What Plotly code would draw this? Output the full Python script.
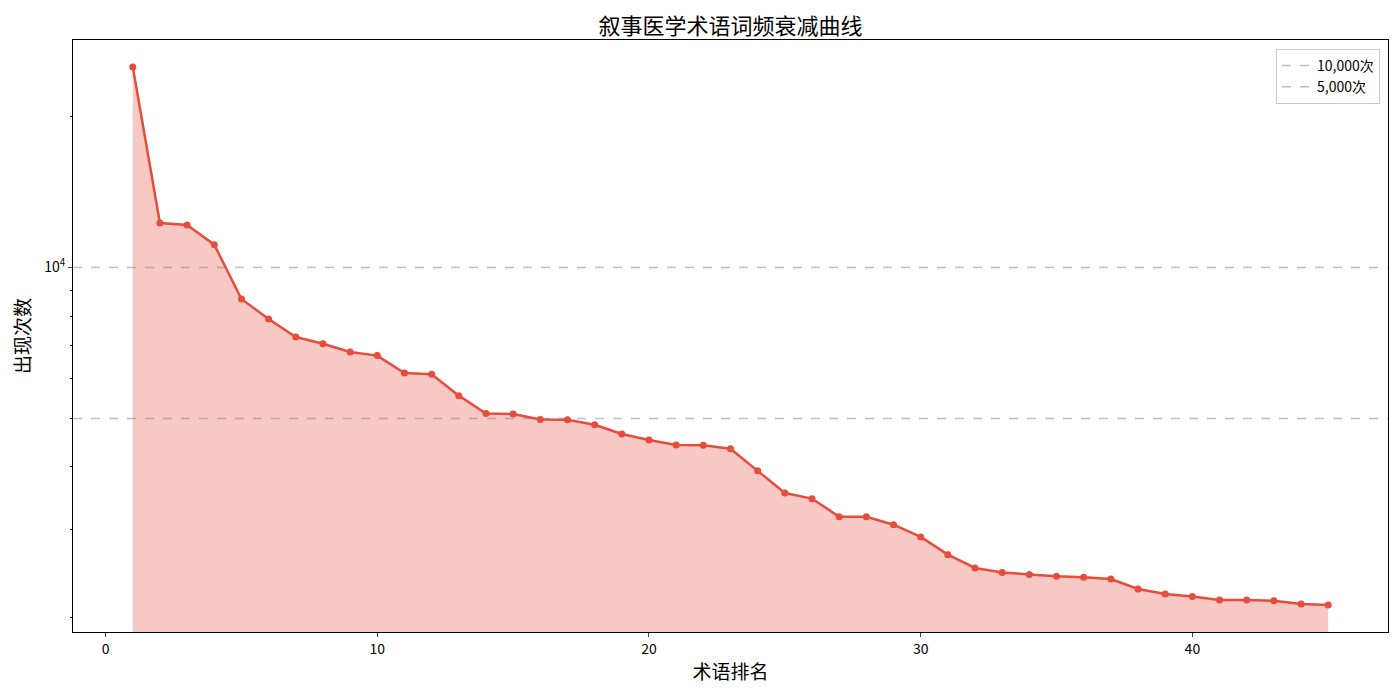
import numpy as np
import plotly.graph_objects as go

# term rank vs occurrence count
ranks = list(range(1, 46))
counts = [25100, 12260, 12150, 11100, 8650, 7890, 7265, 7045, 6780, 6670,
          6160, 6120, 5550, 5115, 5100, 4977, 4970, 4857, 4654, 4527,
          4424, 4420, 4350, 3933, 3550, 3459, 3184, 3183, 3069, 2901,
          2675, 2516, 2465, 2443, 2421, 2410, 2392, 2285, 2233, 2208,
          2172, 2172, 2165, 2132, 2122]

ref_lines = [10000, 5000]
ref_names = ["10,000次", "5,000次"]

red = "#e74c3c"
font_cjk = "Noto Sans CJK SC, DejaVu Sans, sans-serif"

fig = go.Figure()
fig.add_trace(go.Scatter(x=ranks, y=counts, mode="lines+markers",
                         line=dict(color=red, width=2.5),
                         marker=dict(color=red, size=7),
                         fill="tozeroy", fillcolor="rgba(231,76,60,0.3)",
                         showlegend=False, hoverinfo="x+y"))

for val, nm in zip(ref_lines, ref_names):
    fig.add_hline(y=val, line=dict(color="rgba(128,128,128,0.5)", width=1.5, dash="dash"),
                  showlegend=True, name=nm)

# matplotlib-like 5% margins
lo, hi = np.log10(min(counts)), np.log10(max(counts))
pad = 0.05 * (hi - lo)
xpad = 0.05 * (max(ranks) - min(ranks))

minor_vals = [2000, 3000, 4000, 5000, 6000, 7000, 8000, 9000, 20000]

# page body has an 8px margin, so margins are shifted to compensate
fig.update_layout(
    width=1400, height=694,
    margin=dict(l=63, r=20, t=32, b=70),
    paper_bgcolor="white", plot_bgcolor="white",
    font=dict(family=font_cjk, size=14, color="black"),
    title=dict(text="叙事医学术语词频衰减曲线", xref="paper", x=0.5, xanchor="center",
               y=0.973, yanchor="middle", font=dict(size=22)),
    legend=dict(x=0.9939, xanchor="right", y=0.985, yanchor="top",
                bordercolor="#cccccc", borderwidth=1, bgcolor="rgba(255,255,255,0.8)",
                font=dict(size=14), tracegroupgap=0),
)
fig.update_xaxes(range=[min(ranks) - xpad, max(ranks) + xpad],
                 tickvals=[0, 10, 20, 30, 40], ticks="outside", ticklen=4,
                 showgrid=False, zeroline=False, showline=True, linecolor="black",
                 linewidth=1, mirror=True,
                 title=dict(text="术语排名", font=dict(size=19), standoff=8))
fig.update_yaxes(type="log", range=[lo - pad, hi + pad],
                 tickvals=[10000], ticktext=["10<sup>4</sup>"],
                 ticks="outside", ticklen=4,
                 minor=dict(tickvals=minor_vals, ticks="outside", ticklen=2.5,
                            tickcolor="black", showgrid=False),
                 showgrid=False, zeroline=False, showline=True, linecolor="black",
                 linewidth=1, mirror=True,
                 title=dict(text="出现次数", font=dict(size=19), standoff=11))

fig.write_html("out.html")
